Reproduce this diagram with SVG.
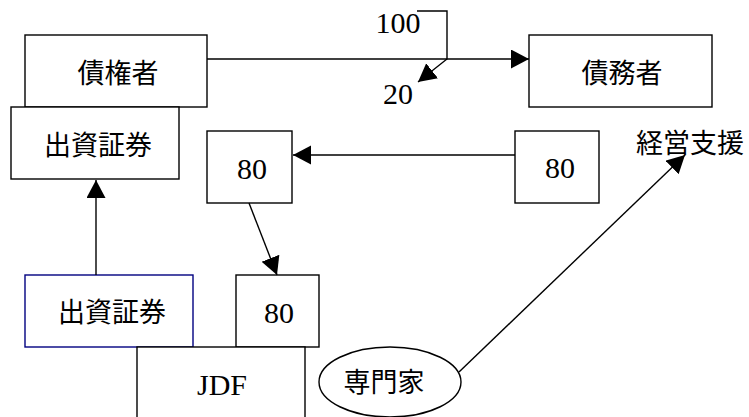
<svg xmlns="http://www.w3.org/2000/svg" width="749" height="417" viewBox="0 0 749 417">
<style>
.box{fill:#fff;stroke:#000;stroke-width:1.4}
.blue{fill:#fff;stroke:#000080;stroke-width:1.4}
.jp{font-family:"Noto Sans CJK JP","Noto Sans",sans-serif;font-size:27px;fill:#000;text-anchor:middle;dominant-baseline:central}
.num{font-family:"Liberation Serif",serif;font-size:30px;fill:#000;text-anchor:middle}
.ln{fill:none;stroke:#000;stroke-width:1.4}
</style>
<defs>
<marker id="ah" markerUnits="userSpaceOnUse" markerWidth="20" markerHeight="20" refX="18" refY="9.5" orient="auto">
<path d="M0,0 L18,9.5 L0,19 z" fill="#000"/>
</marker>
</defs>
<rect width="749" height="417" fill="#fff"/>
<g id="creditor"><rect class="box" x="25" y="35" width="182" height="72"/><text class="jp" x="118" y="71">債権者</text></g>
<g id="debtor"><rect class="box" x="529" y="35" width="183" height="72"/><text class="jp" x="622" y="71">債務者</text></g>
<g id="security-top"><rect class="box" x="11" y="107" width="168" height="72"/><text class="jp" x="98" y="143">出資証券</text></g>
<g id="box80-left"><rect class="box" x="207" y="131" width="85" height="72"/><text class="num" x="252" y="179">80</text></g>
<g id="box80-right"><rect class="box" x="515" y="131" width="84" height="72"/><text class="num" x="560" y="178">80</text></g>
<g id="support"><text class="jp" x="690" y="141">経営支援</text></g>
<g id="security-bottom"><rect class="blue" x="25" y="275" width="168" height="72"/><text class="jp" x="112" y="310">出資証券</text></g>
<g id="box80-bottom"><rect class="box" x="236" y="275" width="83" height="72"/><text class="num" x="279" y="323">80</text></g>
<g id="jdf"><rect class="box" x="137" y="347" width="168" height="90"/><text class="num" x="222" y="395">JDF</text></g>
<g id="expert"><ellipse class="box" cx="390" cy="382" rx="71" ry="35"/><text class="jp" x="384" y="380">専門家</text></g>
<g id="label-100"><text class="num" x="398" y="33">100</text></g>
<g id="label-20"><text class="num" x="398" y="104">20</text></g>
<g id="connectors">
<line class="ln" x1="207" y1="59" x2="529" y2="59" marker-end="url(#ah)"/>
<path class="ln" d="M417,11 H447 V59 L418,82" marker-end="url(#ah)"/>
<line class="ln" x1="96" y1="275" x2="96" y2="180" marker-end="url(#ah)"/>
<line class="ln" x1="515" y1="155" x2="293" y2="155" marker-end="url(#ah)"/>
<line class="ln" x1="249" y1="203" x2="277" y2="275" marker-end="url(#ah)"/>
<line class="ln" x1="459" y1="372" x2="685" y2="155" marker-end="url(#ah)"/>
</g>
</svg>
